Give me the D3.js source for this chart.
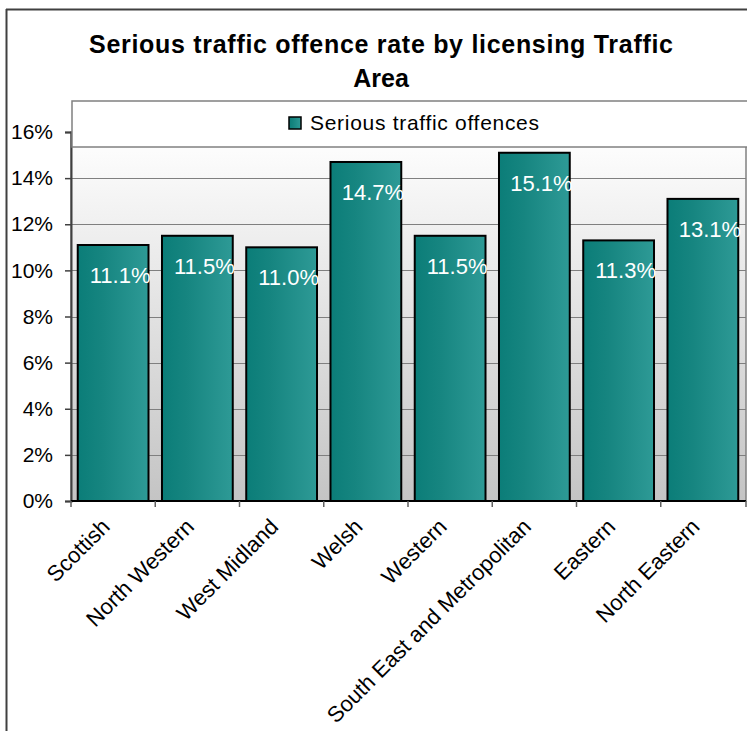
<!DOCTYPE html>
<html>
<head>
<meta charset="utf-8">
<script src="https://cdn.jsdelivr.net/npm/d3@7"></script>
<style>
html,body{margin:0;padding:0;background:#fff;}
svg{display:block;font-family:"Liberation Sans",Arial,sans-serif;}
</style>
</head>
<body>
<svg id="chart" width="747" height="731"></svg>
<script>
const categories = ["Scottish","North Western","West Midland","Welsh","Western","South East and Metropolitan","Eastern","North Eastern"];
const values = [11.1, 11.5, 11.0, 14.7, 11.5, 15.1, 11.3, 13.1];
const yTicks = [0, 2, 4, 6, 8, 10, 12, 14, 16];
const titleLines = ["Serious traffic offence rate by licensing Traffic", "Area"];
const seriesName = "Serious traffic offences";

const svg = d3.select("#chart");
const defs = svg.append("defs");

const bg = defs.append("linearGradient").attr("id","bgGrad").attr("x1",0).attr("y1",0).attr("x2",0).attr("y2",1);
bg.append("stop").attr("offset","0%").attr("stop-color","#ffffff");
bg.append("stop").attr("offset","100%").attr("stop-color","#c4c4c4");

const barG = defs.append("linearGradient").attr("id","barGrad").attr("x1",0).attr("y1",0).attr("x2",1).attr("y2",0);
barG.append("stop").attr("offset","0%").attr("stop-color","#0b7d78");
barG.append("stop").attr("offset","35%").attr("stop-color","#168580");
barG.append("stop").attr("offset","100%").attr("stop-color","#2e9a96");

const plot = {left:71, right:746, top:132, bottom:501};

const x = d3.scaleBand().domain(categories).range([plot.left, plot.right - 1]).paddingInner(0.16).paddingOuter(0.08);
const y = d3.scaleLinear().domain([0,16]).range([plot.bottom, plot.top]);

// outer chart border (cropped)
svg.append("line").attr("x1",6.5).attr("x2",6.5).attr("y1",9).attr("y2",731).attr("stroke","#404040").attr("stroke-width",2);
svg.append("line").attr("x1",6).attr("x2",747).attr("y1",9.5).attr("y2",9.5).attr("stroke","#404040").attr("stroke-width",2);

// title
const title = svg.append("text").attr("text-anchor","middle").attr("font-weight","bold").attr("font-size",25).attr("fill","#000");
title.append("tspan").attr("x",381).attr("y",53).attr("textLength",584).attr("lengthAdjust","spacing").text(titleLines[0]);
title.append("tspan").attr("x",381).attr("y",87).text(titleLines[1]);

// plot area
svg.append("rect").attr("x",plot.left).attr("y",plot.top).attr("width",plot.right-plot.left).attr("height",plot.bottom-plot.top)
  .attr("fill","url(#bgGrad)").attr("stroke","#808080").attr("stroke-width",1.5);

// gridlines
svg.append("g").selectAll("line").data(yTicks.filter(d=>d>0)).join("line")
  .attr("x1",plot.left).attr("x2",plot.right).attr("y1",d=>Math.round(y(d))+0.5).attr("y2",d=>Math.round(y(d))+0.5)
  .attr("stroke","#7f7f7f").attr("stroke-width",1);

// y axis
const yAxis = d3.axisLeft(y).tickValues(yTicks).tickFormat(d=>d+"%").tickSize(6).tickPadding(12);
const ya = svg.append("g").attr("transform",`translate(${plot.left},0)`).call(yAxis);
ya.select(".domain").attr("stroke","#404040").attr("stroke-width",2);
ya.selectAll(".tick line").attr("stroke","#404040").attr("stroke-width",1.5);
ya.selectAll(".tick text").attr("font-size",21).attr("fill","#000").attr("font-family","Liberation Sans, Arial, sans-serif");

// bars
svg.append("g").selectAll("rect").data(values).join("rect")
  .attr("x",(d,i)=>x(categories[i]))
  .attr("y",d=>y(d))
  .attr("width",x.bandwidth())
  .attr("height",d=>y(0)-y(d))
  .attr("fill","url(#barGrad)").attr("stroke","#000").attr("stroke-width",2);

// x axis
const xEdges = categories.map(c=>x(c) - x.step()*x.paddingInner()/2);
xEdges.push(plot.right);
svg.append("line").attr("x1",plot.left).attr("x2",plot.right).attr("y1",plot.bottom).attr("y2",plot.bottom).attr("stroke","#000").attr("stroke-width",2);
svg.append("g").selectAll("line").data(xEdges).join("line")
  .attr("x1",d=>d).attr("x2",d=>d).attr("y1",plot.bottom).attr("y2",plot.bottom+6)
  .attr("stroke","#606060").attr("stroke-width",1.5);

// category labels
svg.append("g").selectAll("text").data(categories).join("text")
  .attr("transform",d=>`translate(${x(d)+x.bandwidth()/2-2},${plot.bottom+27}) rotate(-45)`)
  .attr("text-anchor","end").attr("font-size",22).attr("fill","#000").text(d=>d);

// value labels
svg.append("g").selectAll("text").data(values).join("text")
  .attr("x",(d,i)=>x(categories[i])+x.bandwidth()/2+7)
  .attr("y",d=>y(d)+38)
  .attr("text-anchor","middle").attr("font-size",22).attr("fill","#ffffff")
  .text(d=>d.toFixed(1)+"%");

// legend
svg.append("rect").attr("x",72).attr("y",101).attr("width",700).attr("height",46)
  .attr("fill","#fff").attr("stroke","#808080").attr("stroke-width",1.5);
svg.append("rect").attr("x",289).attr("y",117).attr("width",12).attr("height",12)
  .attr("fill","url(#barGrad)").attr("stroke","#000").attr("stroke-width",1.5);
svg.append("text").attr("x",310).attr("y",130).attr("font-size",21).attr("fill","#000")
  .attr("textLength",229).attr("lengthAdjust","spacing").text(seriesName);
</script>
</body>
</html>
